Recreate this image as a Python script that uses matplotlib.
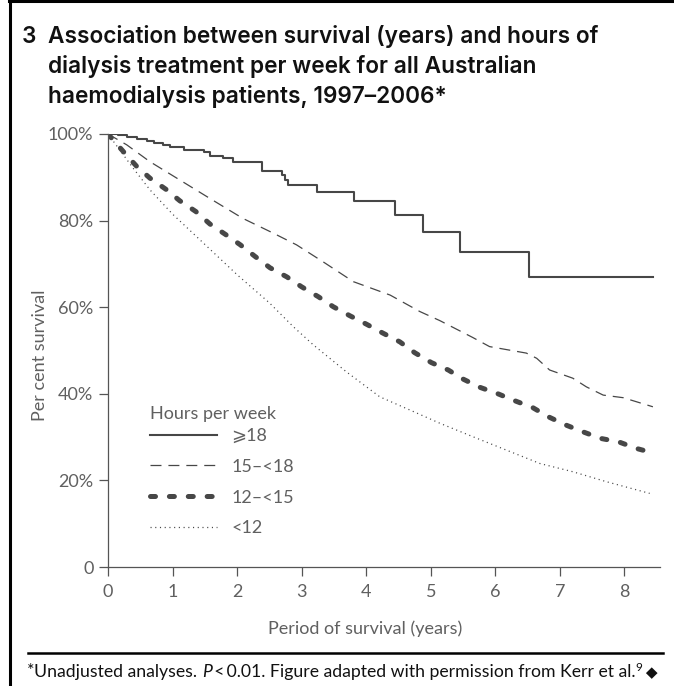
import matplotlib
matplotlib.use("Agg")
import matplotlib.pyplot as plt
from matplotlib.lines import Line2D

# Kaplan-Meier style curves (years, per cent surviving)
years_18 = [0, 0.15, 0.29, 0.45, 0.60, 0.72, 0.85, 0.96, 1.17, 1.48, 1.58, 1.78, 1.94,
            2.38, 2.69, 2.74, 2.79, 3.24, 3.81, 4.44, 4.88, 5.45, 6.52, 8.44]
surv_18 = [100, 99.7, 99.3, 98.9, 98.4, 97.9, 97.4, 96.9, 96.4, 95.9, 95.0, 94.4, 93.5,
           91.5, 90.5, 89.4, 88.2, 86.7, 84.5, 81.3, 77.4, 72.8, 66.9, 66.9]

years_15 = [0, 0.29, 0.65, 1.11, 1.58, 2.09, 2.56, 2.92, 3.33, 3.80, 4.37, 4.83, 5.14,
            5.65, 5.91, 6.48, 6.64, 6.84, 7.20, 7.41, 7.67, 7.98, 8.44]
surv_15 = [100, 97.5, 93.6, 89.4, 85.1, 80.5, 77.1, 74.4, 70.5, 65.9, 62.8, 59.0, 56.9,
           53.0, 50.9, 49.4, 48.2, 45.5, 43.6, 41.6, 39.7, 39.1, 37.0]

years_12 = [0, 0.24, 0.44, 0.65, 0.90, 1.11, 1.36, 1.58, 1.82, 2.05, 2.28, 2.51, 2.77,
            3.0, 3.26, 3.49, 3.75, 4.0, 4.26, 4.52, 4.75, 5.01, 5.27, 5.50, 5.76, 6.04,
            6.30, 6.58, 6.82, 7.09, 7.36, 7.63, 7.91, 8.18, 8.43]
surv_12 = [100, 95.9, 92.6, 89.8, 87.2, 84.6, 82.1, 79.2, 76.8, 74.4, 71.7, 69.1, 67.0,
           64.7, 62.4, 60.1, 58.0, 56.1, 54.0, 52.0, 49.5, 47.2, 45.5, 43.4, 41.5, 40.0,
           38.4, 36.8, 34.7, 32.8, 31.2, 29.7, 28.9, 27.4, 26.4]

years_lt12 = [0, 0.39, 0.65, 1.0, 1.5, 2.0, 2.5, 2.87, 3.18, 3.69, 4.21, 4.73, 5.14,
              5.65, 6.17, 6.69, 7.20, 7.72, 8.39]
surv_lt12 = [100, 92.1, 87.1, 81.5, 74.5, 67.5, 61.0, 55.5, 51.3, 45.1, 39.3, 35.9, 33.2,
             30.1, 27.0, 23.9, 22.0, 19.7, 17.0]

group_labels = ["\u2a7e18", "15\u2013<18", "12\u2013<15", "<12"]
x_ticks = [0, 1, 2, 3, 4, 5, 6, 7, 8]
y_ticks = [0, 20, 40, 60, 80, 100]
y_tick_labels = ["0", "20%", "40%", "60%", "80%", "100%"]

# STIXGeneral ships with matplotlib and carries the slanted >= sign
FONTS = ["Lato", "DejaVu Sans", "STIXGeneral"]
TITLE_FONTS = ["Inter", "DejaVu Sans"]
LINE = "#474747"
TEXT = "#606060"
FS = 13

plt.rcParams["font.family"] = FONTS
plt.rcParams["lines.scale_dashes"] = False

W, H = 674, 686
fig = plt.figure(figsize=(W / 100, H / 100), dpi=100)


def fx(px):
    return px / W


def fy(py):
    return 1 - py / H


# axes placed in pixel terms
ax = fig.add_axes([fx(108), fy(567), fx(660) - fx(108), fy(134) - fy(567)])

ax.plot(years_18, surv_18, drawstyle="steps-post", color=LINE, lw=1.5,
        label=group_labels[0])
ax.plot(years_15, surv_15, color=LINE, lw=0.9, dashes=(7.9, 5.0),
        label=group_labels[1])
ax.plot(years_12, surv_12, color=LINE, lw=3.6, dashes=(3.6, 10.0),
        dash_capstyle="round", label=group_labels[2])
ax.plot(years_lt12, surv_lt12, color=LINE, lw=0.9, dashes=(0.8, 2.6),
        label=group_labels[3])

ax.set_xlim(0, 8.55)
ax.set_ylim(0, 100)
ax.set_xticks(x_ticks)
ax.set_yticks(y_ticks)
ax.set_yticklabels(y_tick_labels)

for side in ["top", "right"]:
    ax.spines[side].set_visible(False)
for side in ["left", "bottom"]:
    ax.spines[side].set_color("#555555")
    ax.spines[side].set_linewidth(0.9)

ax.tick_params(axis="both", length=6.5, width=0.9, color="#555555",
               labelcolor=TEXT, labelsize=FS)
ax.tick_params(axis="x", pad=6)
ax.tick_params(axis="y", pad=4)

# axis titles
fig.text(fx(40), fy(355), "Per cent survival", rotation=90, ha="center", va="center",
         fontsize=FS, color=TEXT)
fig.text(fx(365), fy(629), "Period of survival (years)", ha="center", va="center",
         fontsize=FS, color=TEXT)

# legend, with its heading as a separate text so the row gaps can match
fig.text(fx(150), fy(414), "Hours per week", ha="left", va="center",
         fontsize=FS, color=TEXT)
leg = ax.legend(loc="upper left",
                bbox_to_anchor=(fx(150), fy(428)), bbox_transform=fig.transFigure,
                frameon=False, fontsize=FS,
                handlelength=3.7, handletextpad=0.8, labelspacing=0.82,
                borderpad=0, borderaxespad=0)
for t in leg.get_texts():
    t.set_color(TEXT)

# title block
fig.text(fx(22), fy(37), "3", ha="left", va="center", fontsize=16.3,
         fontweight="semibold", color="#111111", family=TITLE_FONTS)
title_lines = ["Association between survival (years) and hours of",
               "dialysis treatment per week for all Australian",
               "haemodialysis patients, 1997\u20132006*"]
for i, line in enumerate(title_lines):
    fig.text(fx(48), fy(37 + 29.5 * i), line, ha="left", va="center",
             fontsize=16.3, fontweight="semibold", color="#111111", family=TITLE_FONTS)

# frame: left and top rules, plus the rule above the footnote
fig.add_artist(Line2D([fx(10), fx(10)], [0, fy(1)], color="black", lw=2.2))
fig.add_artist(Line2D([fx(9), 1], [fy(1.2), fy(1.2)], color="black", lw=2.2))
fig.add_artist(Line2D([fx(28), fx(663)], [fy(653), fy(653)], color="black", lw=1.8))

# footnote, built piece by piece so P can be italic and 9 a superscript
renderer = fig.canvas.get_renderer()
pieces = [("*", "normal", 1, 12.7),
          ("Unadjusted analyses. ", "normal", 0, 12.7),
          ("P", "italic", 0, 12.7),
          ("\u2009<\u20090.01. Figure adapted with permission from Kerr et al.", "normal", 0, 12.7),
          ("9", "normal", 6, 8.5),
          (" \u25c6", "normal", 0, 11)]
x_cur = 27
for txt, style, rise, size in pieces:
    t = fig.text(fx(x_cur), fy(677 - rise), txt, ha="left", va="baseline",
                 fontsize=size, fontstyle=style, color="#111111")
    bb = t.get_window_extent(renderer=renderer)
    x_cur += bb.width

fig.savefig("out.png", dpi=100)
